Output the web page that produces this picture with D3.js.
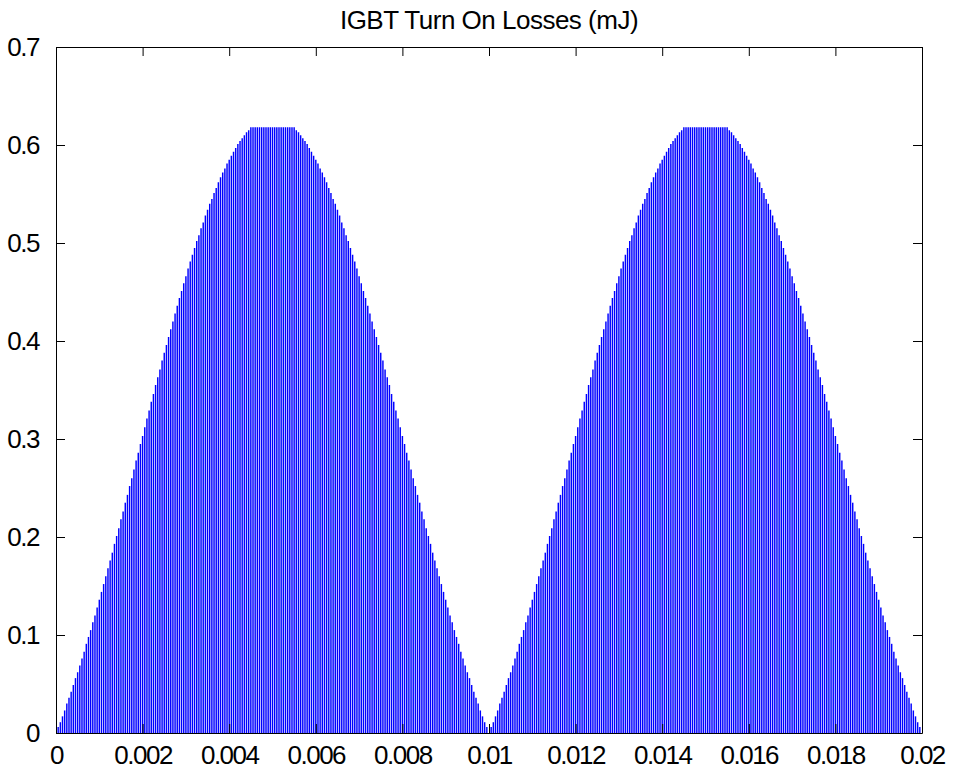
<!DOCTYPE html>
<html>
<head>
<meta charset="utf-8">
<script src="https://cdn.jsdelivr.net/npm/d3@7"></script>
<style>
  html, body { margin: 0; padding: 0; background: #ffffff; }
  svg { display: block; }
  text { font-family: "Liberation Sans", Arial, sans-serif; fill: #000; }
</style>
</head>
<body>
<svg id="chart" width="959" height="772"></svg>
<script>
// IGBT turn-on energy per switching event (mJ), 20 kHz switching over two 50 Hz half-cycles
const switchPeriod = 5e-5; // s between turn-on events
const turnOnLoss = [
  0.000,0.006,0.011,0.017,0.023,0.030,0.036,0.042,0.049,0.056,
  0.062,0.069,0.076,0.083,0.091,0.098,0.105,0.113,0.120,0.128,
  0.136,0.144,0.152,0.160,0.168,0.176,0.184,0.193,0.201,0.209,
  0.218,0.226,0.235,0.243,0.252,0.260,0.269,0.278,0.286,0.295,
  0.303,0.312,0.321,0.329,0.338,0.346,0.355,0.363,0.371,0.380,
  0.388,0.396,0.404,0.412,0.420,0.428,0.436,0.444,0.451,0.459,
  0.466,0.474,0.481,0.488,0.495,0.502,0.508,0.515,0.521,0.528,
  0.534,0.540,0.545,0.551,0.556,0.562,0.567,0.572,0.576,0.581,
  0.585,0.589,0.593,0.597,0.601,0.604,0.607,0.610,0.613,0.615,
  0.618,0.618,0.618,0.618,0.618,0.618,0.618,0.618,0.618,0.618,
  0.618,0.618,0.618,0.618,0.618,0.618,0.618,0.618,0.618,0.618,
  0.618,0.615,0.613,0.610,0.607,0.604,0.601,0.597,0.593,0.589,
  0.585,0.581,0.576,0.572,0.567,0.562,0.556,0.551,0.545,0.540,
  0.534,0.528,0.521,0.515,0.508,0.502,0.495,0.488,0.481,0.474,
  0.466,0.459,0.451,0.444,0.436,0.428,0.420,0.412,0.404,0.396,
  0.388,0.380,0.371,0.363,0.355,0.346,0.338,0.329,0.321,0.312,
  0.303,0.295,0.286,0.278,0.269,0.260,0.252,0.243,0.235,0.226,
  0.218,0.209,0.201,0.193,0.184,0.176,0.168,0.160,0.152,0.144,
  0.136,0.128,0.120,0.113,0.105,0.098,0.091,0.083,0.076,0.069,
  0.062,0.056,0.049,0.042,0.036,0.030,0.023,0.017,0.011,0.006,
  0.000,0.006,0.011,0.017,0.023,0.030,0.036,0.042,0.049,0.056,
  0.062,0.069,0.076,0.083,0.091,0.098,0.105,0.113,0.120,0.128,
  0.136,0.144,0.152,0.160,0.168,0.176,0.184,0.193,0.201,0.209,
  0.218,0.226,0.235,0.243,0.252,0.260,0.269,0.278,0.286,0.295,
  0.303,0.312,0.321,0.329,0.338,0.346,0.355,0.363,0.371,0.380,
  0.388,0.396,0.404,0.412,0.420,0.428,0.436,0.444,0.451,0.459,
  0.466,0.474,0.481,0.488,0.495,0.502,0.508,0.515,0.521,0.528,
  0.534,0.540,0.545,0.551,0.556,0.562,0.567,0.572,0.576,0.581,
  0.585,0.589,0.593,0.597,0.601,0.604,0.607,0.610,0.613,0.615,
  0.618,0.618,0.618,0.618,0.618,0.618,0.618,0.618,0.618,0.618,
  0.618,0.618,0.618,0.618,0.618,0.618,0.618,0.618,0.618,0.618,
  0.618,0.615,0.613,0.610,0.607,0.604,0.601,0.597,0.593,0.589,
  0.585,0.581,0.576,0.572,0.567,0.562,0.556,0.551,0.545,0.540,
  0.534,0.528,0.521,0.515,0.508,0.502,0.495,0.488,0.481,0.474,
  0.466,0.459,0.451,0.444,0.436,0.428,0.420,0.412,0.404,0.396,
  0.388,0.380,0.371,0.363,0.355,0.346,0.338,0.329,0.321,0.312,
  0.303,0.295,0.286,0.278,0.269,0.260,0.252,0.243,0.235,0.226,
  0.218,0.209,0.201,0.193,0.184,0.176,0.168,0.160,0.152,0.144,
  0.136,0.128,0.120,0.113,0.105,0.098,0.091,0.083,0.076,0.069,
  0.062,0.056,0.049,0.042,0.036,0.030,0.023,0.017,0.011,0.006
];

const xTicks = [0, 0.002, 0.004, 0.006, 0.008, 0.01, 0.012, 0.014, 0.016, 0.018, 0.02];
const xTickLabels = ["0", "0.002", "0.004", "0.006", "0.008", "0.01", "0.012", "0.014", "0.016", "0.018", "0.02"];
const yTicks = [0, 0.1, 0.2, 0.3, 0.4, 0.5, 0.6, 0.7];
const yTickLabels = ["0", "0.1", "0.2", "0.3", "0.4", "0.5", "0.6", "0.7"];
const chartTitle = "IGBT Turn On Losses (mJ)";

const svg = d3.select("#chart");
const margin = { left: 56, right: 37, top: 47, bottom: 39 };
const W = 959, H = 772;
const x0 = margin.left, x1 = W - margin.right;
const y0 = H - margin.bottom, y1 = margin.top;

const x = d3.scaleLinear().domain([0, 0.02]).range([x0, x1]);
const y = d3.scaleLinear().domain([0, 0.7]).range([y0, y1]);

// switching events: one vertical stroke per turn-on
const pulses = turnOnLoss.map((v, i) => ({ t: i * switchPeriod, v }));

svg.append("g")
  .selectAll("line")
  .data(pulses)
  .join("line")
  .attr("x1", d => x(d.t))
  .attr("x2", d => x(d.t))
  .attr("y1", y(0))
  .attr("y2", d => y(d.v))
  .attr("stroke", "#0000ff")
  .attr("stroke-width", 1.45);

const tickLen = 9;
const fmtX = d => xTickLabels[xTicks.indexOf(d)];
const fmtY = d => yTickLabels[yTicks.indexOf(d)];

// bottom axis with labels, ticks pointing inward
const gx = svg.append("g").attr("transform", `translate(0,${y0})`)
  .call(d3.axisBottom(x).tickValues(xTicks).tickFormat(fmtX).tickSizeInner(-tickLen).tickSizeOuter(0).tickPadding(tickLen + 4));
// top axis, ticks only
const gxt = svg.append("g").attr("transform", `translate(0,${y1})`)
  .call(d3.axisTop(x).tickValues(xTicks).tickFormat("").tickSizeInner(-tickLen).tickSizeOuter(0));
// left axis with labels
const gy = svg.append("g").attr("transform", `translate(${x0},0)`)
  .call(d3.axisLeft(y).tickValues(yTicks).tickFormat(fmtY).tickSizeInner(-tickLen).tickSizeOuter(0).tickPadding(tickLen + 8));
// right axis, ticks only
const gyr = svg.append("g").attr("transform", `translate(${x1},0)`)
  .call(d3.axisRight(y).tickValues(yTicks).tickFormat("").tickSizeInner(-tickLen).tickSizeOuter(0));

[gx, gxt, gy, gyr].forEach(g => {
  g.selectAll(".domain").attr("stroke", "#000").attr("stroke-width", 1);
  g.selectAll(".tick line").attr("stroke", "#000").attr("stroke-width", 1);
});

gx.selectAll(".tick text")
  .attr("font-family", "Liberation Sans, Arial, sans-serif")
  .attr("font-size", 26)
  .attr("letter-spacing", -1.5)
  .attr("dy", "0.71em");
gy.selectAll(".tick text")
  .attr("font-family", "Liberation Sans, Arial, sans-serif")
  .attr("font-size", 26)
  .attr("letter-spacing", -1.5);

svg.append("text")
  .attr("x", (x0 + x1) / 2)
  .attr("y", 29)
  .attr("text-anchor", "middle")
  .attr("font-size", 26)
  .attr("letter-spacing", -0.5)
  .text(chartTitle);
</script>
</body>
</html>
